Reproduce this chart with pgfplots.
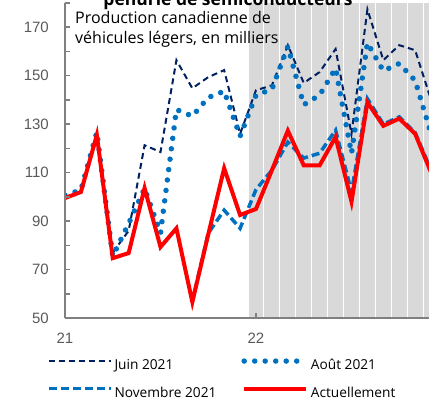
\documentclass[border=0pt]{standalone}
\usepackage{fontspec}
\setmainfont{Open Sans}
\newfontfamily\tickfont{Liberation Sans}
\usepackage{pgfplots}
\pgfplotsset{compat=1.18}
\usetikzlibrary{calc}
\definecolor{navy}{HTML}{002060}
\definecolor{bleu}{HTML}{0070C0}
\definecolor{rouge}{HTML}{FF0000}
\definecolor{ombre}{HTML}{D9D9D9}
\definecolor{axegris}{HTML}{808080}
\definecolor{texgris}{HTML}{595959}
\begin{document}
\begin{tikzpicture}
\begin{axis}[name=ax, at={(0,0)}, anchor=south west, scale only axis,
  width=382bp, height=315bp,
  xmin=0, xmax=24, ymin=50, ymax=180,
  axis x line=bottom, axis y line=left,
  axis line style={-, draw=axegris, line width=1.5bp},
  tick align=inside, major tick length=5bp, minor tick length=5bp,
  tick style={draw=axegris, line width=1.5bp},
  xtick={0,12}, xticklabels={21,22},
  ytick={50,70,...,170}, minor ytick={60,80,...,180},
  ticklabel style={font=\tickfont\fontsize{15bp}{18bp}\selectfont, text=texgris, inner sep=0pt},
  yticklabel style={xshift=-16bp},
  xticklabel style={yshift=-15bp},
  /pgf/number format/assume math mode=true,
  axis on top,
  legend columns=2,
  legend cell align=left,
  legend style={at={(axis description cs:-0.047,-0.128)}, anchor=north west,
    draw=none, fill=none, inner sep=0pt, outer sep=0pt,
    font=\fontsize{13.7bp}{16bp}\selectfont, row sep=14bp,
    nodes={inner sep=0pt, text height=10bp, text depth=3bp},
    /tikz/every odd column/.append style={column sep=2bp},
    /tikz/every even column/.append style={column sep=25bp}},
  legend image code/.code={\draw[#1] (0bp,5bp) -- (62bp,5bp);},
]
\addplot[ybar interval, fill=ombre, draw=white, line width=1bp, forget plot] coordinates {
(11.5,180) (12.5,180) (13.5,180) (14.5,180) (15.5,180) (16.5,180) (17.5,180) (18.5,180)
(19.5,180) (20.5,180) (21.5,180) (22.5,180) (23.5,180) (24.5,180) (25.5,180)};
\addplot[navy, mark=none, line width=2bp, dash pattern=on 6bp off 4bp] coordinates {
(3,77) (4,86) (5,121.3) (6,118.5) (7,156.4) (8,144.8) (9,149.4) (10,152.3) (11,126)
(12,144) (13,146) (14,162.6) (15,147) (16,151.5) (17,161) (18,126) (19,177.4)
(20,156.4) (21,162.6) (22,160.5) (23,140) (24,135)};
\addlegendentry{Juin 2021}
\addplot[bleu, mark=none, line width=5.5bp, line cap=round, dash pattern=on 0bp off 10.5bp] coordinates {
(0,100.7) (1,102.8) (2,126.7) (3,75.5) (4,89) (5,103.5) (6,85) (7,136) (8,133.3)
(9,141) (10,143.6) (11,125) (12,142) (13,144.4) (14,162) (15,138) (16,142) (17,153)
(18,118) (19,163.5) (20,152) (21,155) (22,148) (23,126) (24,124)};
\addlegendentry{Août 2021}
\addplot[bleu, mark=none, line width=3.5bp, dash pattern=on 8bp off 4bp] coordinates {
(8,57) (9,85) (10,94.5) (11,87) (12,103) (13,111) (14,122.6) (15,116) (16,118)
(17,127.5) (18,102) (19,140.5) (20,130) (21,133) (22,126.5) (23,111) (24,108)};
\addlegendentry{Novembre 2021}
\addplot[rouge, mark=none, line width=4bp] coordinates {
(0,99.5) (1,102) (2,125.5) (3,74.7) (4,76.8) (5,103.6) (6,79.3) (7,87) (8,56.6)
(9,84.5) (10,111.8) (11,92.5) (12,95) (13,111) (14,127.3) (15,113) (16,113)
(17,124.7) (18,98) (19,139) (20,129.3) (21,132.3) (22,126) (23,110) (24,106)};
\addlegendentry{Actuellement}
\end{axis}
\node[anchor=base, inner sep=0pt, font=\bfseries\fontsize{17.5bp}{20bp}\selectfont]
  at ($(ax.south west)+(163bp,312bp)$) {pénurie de semiconducteurs};
\node[anchor=base west, inner sep=0pt, font=\fontsize{16bp}{20bp}\selectfont]
  at ($(ax.south west)+(10bp,294.5bp)$) {Production canadienne de};
\node[anchor=base west, inner sep=0pt, font=\fontsize{16bp}{20bp}\selectfont]
  at ($(ax.south west)+(10bp,274.5bp)$) {véhicules légers, en milliers};
\pgfresetboundingbox
\path[use as bounding box] ($(ax.south west)+(-65bp,-82bp)$) rectangle ($(ax.south west)+(364bp,318bp)$);
\end{tikzpicture}
\end{document}
